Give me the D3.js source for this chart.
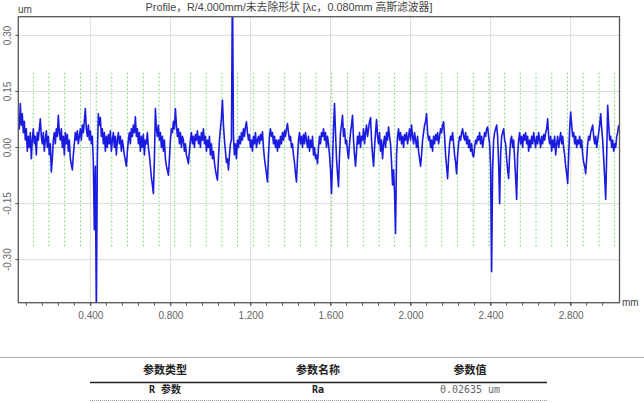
<!DOCTYPE html>
<html>
<head>
<meta charset="utf-8">
<script src="https://cdn.jsdelivr.net/npm/d3@7"></script>
<style>
  html, body { margin: 0; padding: 0; background: #fff; }
  svg { display: block; }
</style>
</head>
<body>
<svg id="chart" width="644" height="403"></svg>
<script>
// ---------- data ----------
const titleText = "Profile，R/4.000mm/未去除形状 [λc，0.080mm 高斯滤波器]";
const yUnit = "um";
const xUnit = "mm";
const xTickValues = [0.4, 0.8, 1.2, 1.6, 2.0, 2.4, 2.8];
const xTickLabels = ["0.400", "0.800", "1.200", "1.600", "2.000", "2.400", "2.800"];
const yTickValues = [-0.30, -0.15, 0.00, 0.15, 0.30];
const yTickLabels = ["-0.30", "-0.15", "0.00", "0.15", "0.30"];
const sampleStart = 0.04;   // mm
const sampleStep = 0.005;   // mm
const profile = [
  0.08, 0.05, 0.118, 0.06, 0.09, 0.04, 0.07, 0.02, 0.05, -0.01, 0.03, 0.00, 0.04, -0.03, 0.02, 0.05, 0.01, 0.03, -0.02, 0.04,
  0.02, 0.05, 0.077, 0.03, 0.01, 0.04, -0.01, 0.02, 0.045, 0.00, 0.03, -0.02, 0.01, -0.065, -0.03, 0.02, 0.04, 0.01, 0.05, 0.03,
  0.086, 0.04, 0.02, 0.05, 0.00, 0.03, -0.02, 0.04, 0.01, 0.035, -0.01, 0.02, -0.03, -0.045, -0.06, -0.02, 0.01, 0.04, 0.02, 0.045,
  0.01, 0.03, 0.05, 0.02, 0.06, 0.04, 0.07, 0.104, 0.05, 0.03, 0.06, 0.02, 0.045, 0.01, 0.03, -0.04, -0.22, -0.05, -0.45, -0.02,
  0.09, 0.06, 0.08, 0.03, 0.05, 0.01, 0.04, -0.01, 0.03, 0.00, 0.035, 0.01, 0.045, -0.01, 0.02, 0.04, 0.00, 0.03, -0.02, 0.02,
  0.04, 0.01, 0.03, -0.01, 0.02, 0.00, -0.02, -0.035, -0.05, -0.01, 0.02, 0.04, 0.01, 0.05, 0.03, 0.06, 0.04, 0.082, 0.03, 0.05,
  0.01, 0.04, -0.01, 0.03, 0.00, 0.035, -0.02, 0.02, 0.01, 0.04, 0.00, -0.02, -0.05, -0.08, -0.10, -0.123, -0.03, 0.104, 0.05, 0.03,
  0.06, 0.02, 0.04, 0.00, 0.03, -0.01, 0.02, -0.03, -0.05, -0.06, -0.074, -0.03, 0.02, 0.05, 0.04, 0.07, 0.05, 0.104, 0.06, 0.03,
  0.05, 0.01, 0.04, 0.00, 0.03, 0.02, -0.01, 0.01, -0.02, -0.03, -0.043, -0.01, 0.02, 0.04, 0.01, 0.03, 0.00, 0.035, 0.02, 0.045,
  0.01, 0.03, 0.00, 0.04, 0.02, 0.05, 0.01, 0.03, -0.01, 0.02, 0.00, 0.03, -0.02, 0.01, -0.03, -0.01, -0.04, -0.06, -0.075, -0.087,
  -0.03, 0.02, 0.05, 0.08, 0.127, 0.06, 0.02, -0.01, -0.04, -0.03, -0.06, -0.02, 0.01, 0.02, 0.45, 0.03, -0.02, 0.01, -0.03, 0.02,
  0.00, 0.03, 0.01, 0.04, 0.02, 0.05, 0.03, 0.055, 0.069, 0.04, 0.02, 0.035, 0.00, 0.02, -0.01, 0.03, 0.01, 0.04, 0.00, 0.02,
  0.03, 0.01, 0.035, 0.02, 0.042, 0.00, -0.03, -0.05, -0.07, -0.092, -0.02, 0.03, 0.05, 0.03, 0.04, 0.01, 0.03, 0.00, 0.02, -0.01,
  0.02, 0.00, 0.03, 0.01, 0.04, 0.02, 0.045, 0.03, 0.05, 0.064, 0.04, 0.02, 0.03, 0.00, 0.01, -0.02, -0.04, -0.07, -0.092, -0.03,
  0.02, 0.04, 0.01, 0.03, 0.00, 0.035, 0.01, 0.04, 0.02, 0.00, 0.03, -0.01, 0.02, 0.00, 0.03, -0.02, 0.00, -0.03, -0.02, -0.043,
  0.00, 0.03, 0.01, 0.04, 0.03, 0.05, 0.02, 0.04, 0.00, 0.03, 0.01, -0.02, -0.06, -0.123, -0.04, 0.05, 0.118, 0.04, -0.03, -0.07,
  -0.105, -0.02, 0.04, 0.06, 0.086, 0.03, 0.05, 0.01, 0.02, -0.01, -0.03, 0.01, 0.04, 0.06, 0.086, 0.02, -0.02, -0.05, -0.01, 0.03,
  0.01, 0.04, 0.00, 0.03, 0.02, 0.05, 0.01, 0.04, 0.06, 0.03, 0.05, 0.07, 0.08, 0.02, -0.02, -0.05, 0.00, 0.04, 0.075, 0.03,
  0.01, 0.04, -0.01, 0.02, -0.03, 0.01, 0.03, 0.00, 0.04, 0.02, 0.055, 0.03, 0.01, -0.04, -0.10, -0.06, -0.12, -0.23, -0.02, 0.03,
  0.05, 0.02, 0.04, 0.01, 0.03, 0.00, 0.035, 0.02, 0.04, 0.01, 0.03, 0.05, 0.02, 0.06, 0.03, 0.01, 0.04, 0.02, 0.00, 0.03,
  -0.01, -0.03, -0.05, -0.02, 0.02, 0.04, 0.06, 0.07, 0.09, 0.04, 0.02, 0.03, 0.00, 0.02, -0.01, 0.03, 0.01, 0.035, 0.02, 0.04,
  0.01, 0.03, 0.05, 0.04, 0.06, 0.069, 0.03, -0.02, -0.05, -0.083, -0.03, 0.01, 0.03, 0.02, 0.04, 0.01, -0.02, -0.04, -0.07, -0.02,
  0.01, 0.03, 0.02, 0.04, 0.05, 0.03, 0.02, 0.04, 0.01, 0.03, 0.00, 0.02, -0.01, 0.01, -0.02, -0.025, 0.00, 0.02, 0.01, 0.03,
  0.02, 0.04, 0.01, 0.03, 0.00, 0.02, 0.04, 0.03, 0.05, 0.055, 0.03, 0.01, -0.05, -0.332, -0.06, 0.02, 0.04, 0.05, 0.06, 0.03,
  -0.04, -0.15, -0.02, 0.03, 0.04, 0.05, 0.02, 0.01, -0.03, -0.06, -0.083, -0.02, 0.02, 0.03, 0.00, 0.02, -0.03, -0.08, -0.139, -0.02,
  0.02, 0.04, 0.01, 0.03, 0.00, 0.035, 0.02, 0.04, 0.01, 0.03, -0.01, 0.02, 0.00, 0.03, 0.01, 0.04, 0.02, 0.00, 0.03, 0.01,
  0.04, 0.02, 0.00, 0.03, 0.01, 0.035, 0.02, 0.04, 0.05, 0.077, 0.03, 0.01, 0.03, -0.01, 0.02, 0.00, 0.03, -0.02, 0.01, 0.03,
  0.00, 0.02, 0.04, 0.01, 0.03, 0.00, -0.02, -0.05, -0.07, -0.096, -0.02, 0.05, 0.095, 0.06, 0.03, 0.04, 0.01, 0.03, 0.00, 0.02,
  0.01, 0.03, 0.00, 0.02, -0.02, -0.04, -0.05, -0.07, -0.03, 0.01, 0.03, 0.02, 0.04, 0.05, 0.06, 0.03, 0.01, 0.03, 0.00, 0.02,
  0.04, 0.06, 0.09, 0.05, 0.02, -0.03, -0.08, -0.139, -0.02, 0.113, 0.06, 0.02, 0.03, 0.00, 0.02, -0.01, 0.01, 0.00, 0.03, 0.04,
  0.06
];
const cutoffStart = 0.115;   // mm, first sampling-length marker
const cutoffStep = 0.0785;   // mm
const cutoffCount = 38;
const cutoffTop = 0.20, cutoffBottom = -0.265;
const tableHeaders = ["参数类型", "参数名称", "参数值"];
const tableRow = ["R 参数", "Ra", "0.02635 um"];

// ---------- layout ----------
const svg = d3.select("#chart");
const L = 18.3, R = 619.5, T = 16.7, B = 302.7;
const x = d3.scaleLinear().domain([0.04, 3.044]).range([L, R]);
const y = d3.scaleLinear().domain([-0.415, 0.35]).range([B, T]);

svg.append("defs").append("clipPath").attr("id", "clip")
  .append("rect").attr("x", L).attr("y", T).attr("width", R - L).attr("height", B - T);

// grid
const grid = svg.append("g");
grid.selectAll(".gx").data(xTickValues).enter().append("line")
  .attr("x1", d => x(d)).attr("x2", d => x(d)).attr("y1", T).attr("y2", B)
  .attr("stroke", "#dcdcdc").attr("stroke-width", 1);
grid.selectAll(".gy").data(yTickValues).enter().append("line")
  .attr("x1", L).attr("x2", R).attr("y1", d => y(d)).attr("y2", d => y(d))
  .attr("stroke", "#dcdcdc").attr("stroke-width", 1);

// cutoff markers (green dotted)
const cutoffs = d3.range(cutoffCount).map(k => cutoffStart + k * cutoffStep);
grid.selectAll(".gc").data(cutoffs).enter().append("line")
  .attr("x1", d => x(d)).attr("x2", d => x(d))
  .attr("y1", y(cutoffTop)).attr("y2", y(cutoffBottom))
  .attr("stroke", "#5fd35f").attr("stroke-width", 1).attr("stroke-dasharray", "1.5,2.5");
grid.append("line").attr("x1", L).attr("x2", R).attr("y1", y(0)).attr("y2", y(0))
  .attr("stroke", "#8fdc8f").attr("stroke-width", 1).attr("stroke-dasharray", "2,2");

// profile line
const line = d3.line().x((d, i) => x(sampleStart + i * sampleStep)).y(d => y(d));
svg.append("path").datum(profile)
  .attr("clip-path", "url(#clip)")
  .attr("d", line).attr("fill", "none")
  .attr("stroke", "#1a1ae0").attr("stroke-width", 1.6).attr("stroke-linejoin", "round");

// frame
svg.append("rect").attr("x", L).attr("y", T).attr("width", R - L).attr("height", B - T)
  .attr("fill", "none").attr("stroke", "#555").attr("stroke-width", 1.3);

// x axis
const xAxis = d3.axisBottom(x).tickValues(xTickValues)
  .tickFormat((d, i) => xTickLabels[i]).tickSize(3).tickPadding(6);
const gx = svg.append("g").attr("transform", `translate(0,${B})`).call(xAxis);
gx.select(".domain").remove();
gx.selectAll("line").attr("stroke", "#555");
gx.selectAll("text").attr("fill", "#666").attr("font-size", 10)
  .attr("font-family", "Liberation Sans, Arial, sans-serif");
const minor = d3.range(1, 38).map(k => k * 0.08).filter(v => v > 0.04 && v < 3.044);
svg.append("g").selectAll("line").data(minor).enter().append("line")
  .attr("x1", d => x(d)).attr("x2", d => x(d)).attr("y1", B).attr("y2", B + 3)
  .attr("stroke", "#555").attr("stroke-width", 1);

// y axis
const gy = svg.append("g");
gy.selectAll("line").data(yTickValues).enter().append("line")
  .attr("x1", L - 3).attr("x2", L).attr("y1", d => y(d)).attr("y2", d => y(d))
  .attr("stroke", "#555");
gy.selectAll("text").data(yTickValues).enter().append("text")
  .attr("transform", d => `translate(10.5,${y(d)}) rotate(-90)`)
  .attr("text-anchor", "middle")
  .attr("fill", "#666").attr("font-size", 10)
  .attr("font-family", "Liberation Sans, Arial, sans-serif")
  .text((d, i) => yTickLabels[i]);

// units and title
svg.append("text").attr("x", 18).attr("y", 13).attr("fill", "#444")
  .attr("font-size", 10).attr("font-family", "Liberation Sans, Arial, sans-serif").text(yUnit);
svg.append("text").attr("x", 622).attr("y", 306).attr("fill", "#444")
  .attr("font-size", 10).attr("font-family", "Liberation Sans, Arial, sans-serif").text(xUnit);
svg.append("text").attr("x", 289).attr("y", 11).attr("text-anchor", "middle").attr("fill", "#444")
  .attr("font-size", 10.8).attr("font-family", "Liberation Sans, Noto Sans CJK SC, sans-serif").text(titleText);

// table
const colX = [165, 318, 470];
svg.append("line").attr("x1", 0).attr("x2", 644).attr("y1", 357.5).attr("y2", 357.5)
  .attr("stroke", "#aaa").attr("stroke-width", 1);
svg.append("g").selectAll("text").data(tableHeaders).enter().append("text")
  .attr("x", (d, i) => colX[i]).attr("y", 373.5).attr("text-anchor", "middle")
  .attr("font-size", 11).attr("font-weight", "bold").attr("fill", "#222")
  .attr("font-family", "Noto Sans CJK SC, sans-serif").text(d => d);
svg.append("line").attr("x1", 90).attr("x2", 547).attr("y1", 382.5).attr("y2", 382.5)
  .attr("stroke", "#222").attr("stroke-width", 1.6);
svg.append("g").selectAll("text").data(tableRow).enter().append("text")
  .attr("x", (d, i) => colX[i]).attr("y", 392.5).attr("text-anchor", "middle")
  .attr("font-size", 10)
  .attr("font-weight", (d, i) => i === 2 ? "normal" : "bold")
  .attr("fill", (d, i) => i === 2 ? "#666" : "#222")
  .attr("font-family", "DejaVu Sans Mono, Noto Sans CJK SC, monospace").text(d => d);
svg.append("line").attr("x1", 90).attr("x2", 547).attr("y1", 400.5).attr("y2", 400.5)
  .attr("stroke", "#999").attr("stroke-width", 1).attr("stroke-dasharray", "1,1");
</script>
</body>
</html>
